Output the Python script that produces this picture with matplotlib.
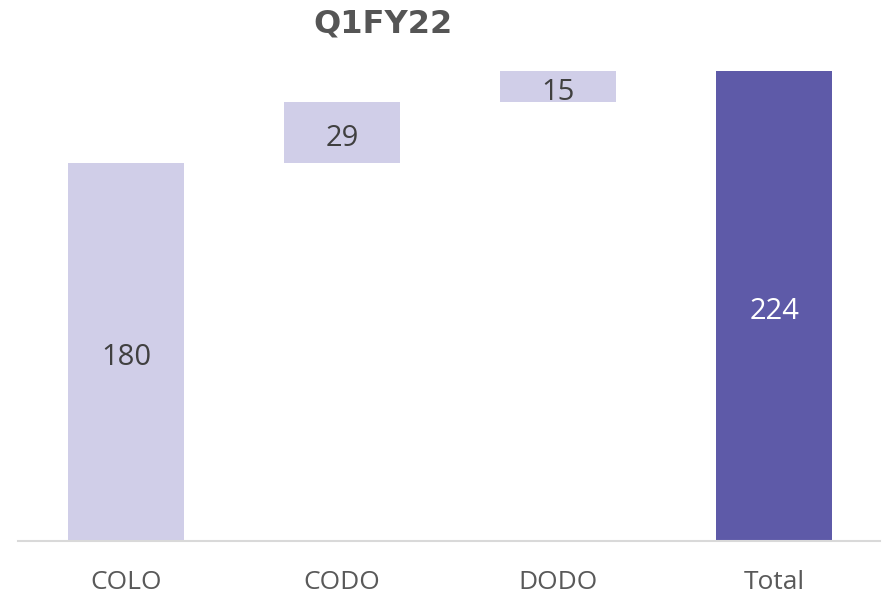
import matplotlib
matplotlib.use("Agg")
import matplotlib.pyplot as plt

categories = ["COLO", "CODO", "DODO", "Total"]
values = [180, 29, 15, 224]
is_total = [False, False, False, True]
title = "Q1FY22"

light = "#D0CEE8"
dark = "#5E5AA8"

fig = plt.figure(figsize=(8.82, 5.97), dpi=100)
W, H = 882, 597
ax = fig.add_axes([18 / W, (H - 541) / H, (880 - 18) / W, (541 - 60) / H])

bottoms = []
run = 0
for v, t in zip(values, is_total):
    if t:
        bottoms.append(0)
    else:
        bottoms.append(run)
        run += v

x = list(range(len(categories)))
colors = [dark if t else light for t in is_total]
ax.bar(x, values, bottom=bottoms, width=116 / 216, color=colors, edgecolor="none")

for xi, v, b, t in zip(x, values, bottoms, is_total):
    ax.annotate(str(v), (xi, b + v / 2), xytext=(0, -3.8), textcoords="offset points",
                ha="center", va="center", fontsize=21,
                family="Open Sans", color="white" if t else "#404040")

ax.set_xlim(-0.5, 3.49)
ax.set_ylim(0, (541 - 60) / (470 / 224))
ax.set_xticks(x)
ax.set_xticklabels(categories, fontsize=19, family="Open Sans", color="#595959")
ax.tick_params(axis="x", length=0, pad=21)
ax.set_yticks([])
for s in ["top", "right", "left"]:
    ax.spines[s].set_visible(False)
ax.spines["bottom"].set_color("#D9D9D9")
ax.spines["bottom"].set_linewidth(1.5)

fig.text(383 / W, 1 - 24 / H, title, ha="center", va="center", fontsize=23,
         fontweight="bold", family="DejaVu Sans", color="#555555")

fig.savefig("out.png", dpi=100)
